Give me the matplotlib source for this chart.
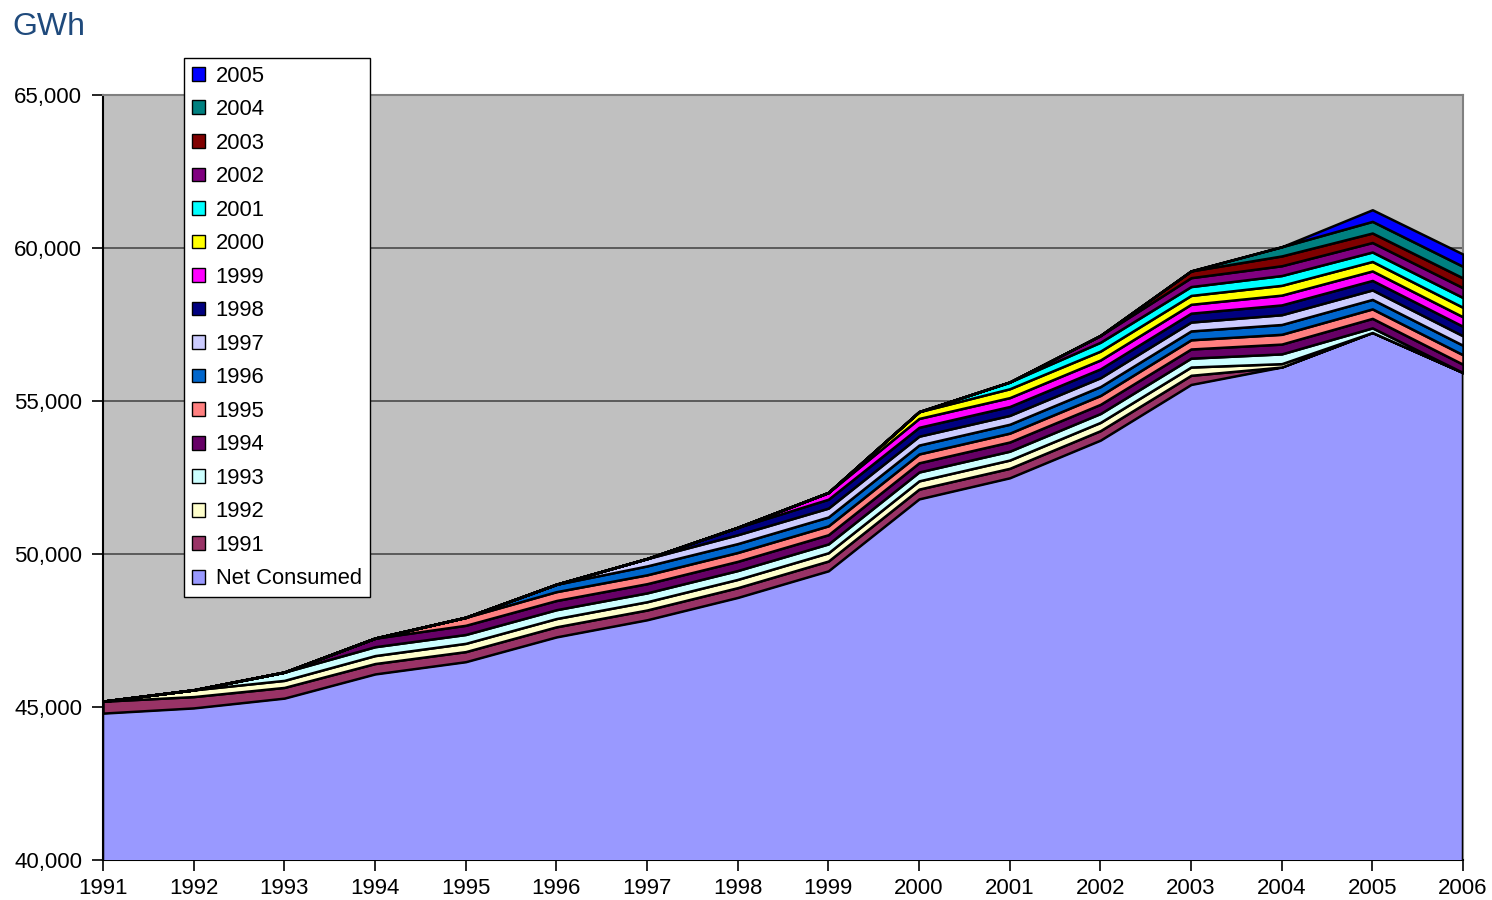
import matplotlib
matplotlib.use("Agg")
import matplotlib.pyplot as plt
from matplotlib.patches import Patch
from matplotlib.ticker import FuncFormatter

plt.rcParams['font.family'] = ['Liberation Sans', 'DejaVu Sans']

years = list(range(1991, 2007))

net_consumed = [44800, 44970, 45290, 46080, 46480, 47290, 47850, 48580,
                49450, 51800, 52490, 53720, 55540, 56110, 57240, 55930]

s1991 = [390, 370, 350, 340, 330, 330, 320, 320, 320, 320, 310, 310, 300, 0, 0, 0]
s1992 = [0, 220, 230, 260, 270, 270, 270, 270, 270, 270, 270, 270, 270, 110, 0, 0]
s1993 = [0, 0, 270, 290, 290, 290, 290, 290, 290, 290, 290, 290, 290, 320, 150, 0]
s1994 = [0, 0, 0, 280, 300, 300, 300, 300, 300, 300, 300, 300, 300, 320, 310, 270]
s1995 = [0, 0, 0, 0, 260, 290, 290, 290, 290, 290, 290, 290, 300, 320, 310, 310]
s1996 = [0, 0, 0, 0, 0, 240, 290, 290, 290, 290, 290, 290, 290, 320, 310, 310]
s1997 = [0, 0, 0, 0, 0, 0, 240, 290, 290, 290, 290, 290, 290, 320, 310, 310]
s1998 = [0, 0, 0, 0, 0, 0, 0, 240, 290, 290, 290, 290, 290, 320, 310, 310]
s1999 = [0, 0, 0, 0, 0, 0, 0, 0, 220, 290, 290, 290, 290, 320, 310, 310]
s2000 = [0, 0, 0, 0, 0, 0, 0, 0, 0, 220, 290, 290, 290, 320, 310, 310]
s2001 = [0, 0, 0, 0, 0, 0, 0, 0, 0, 0, 220, 290, 290, 320, 310, 320]
s2002 = [0, 0, 0, 0, 0, 0, 0, 0, 0, 0, 0, 220, 290, 320, 310, 320]
s2003 = [0, 0, 0, 0, 0, 0, 0, 0, 0, 0, 0, 0, 220, 320, 310, 320]
s2004 = [0, 0, 0, 0, 0, 0, 0, 0, 0, 0, 0, 0, 0, 300, 380, 380]
s2005 = [0, 0, 0, 0, 0, 0, 0, 0, 0, 0, 0, 0, 0, 0, 380, 400]

series_labels = ["Net Consumed", "1991", "1992", "1993", "1994", "1995", "1996",
                 "1997", "1998", "1999", "2000", "2001", "2002", "2003", "2004", "2005"]
series_values = [net_consumed, s1991, s1992, s1993, s1994, s1995, s1996, s1997,
                 s1998, s1999, s2000, s2001, s2002, s2003, s2004, s2005]
series_colors = ["#9999FF", "#993366", "#FFFFCC", "#CCFFFF", "#660066", "#FF8080",
                 "#0066CC", "#CCCCFF", "#000080", "#FF00FF", "#FFFF00", "#00FFFF",
                 "#800080", "#800000", "#008080", "#0000FF"]

y_ticks = [40000, 45000, 50000, 55000, 60000, 65000]

fig = plt.figure(figsize=(14.92, 9.0), dpi=100)
ax = fig.add_axes([103/1492, 1 - 860/900, (1463-103)/1492, (860-95)/900])
ax.set_facecolor("#C0C0C0")

ax.stackplot(years, *series_values, colors=series_colors,
             edgecolor="black", linewidth=1.8, zorder=3)

ax.set_xlim(1991, 2006)
ax.set_ylim(40000, 65000)
ax.set_xticks(years)
ax.set_yticks(y_ticks)
ax.yaxis.set_major_formatter(FuncFormatter(lambda v, p: f"{int(v):,}"))
ax.grid(axis="y", color="#4a4a4a", linewidth=1.2, zorder=1)
ax.set_axisbelow(True)

ax.tick_params(axis="both", direction="out", length=8, width=1.2, labelsize=16,
               colors="black")
ax.tick_params(axis="x", pad=5)
ax.tick_params(axis="y", pad=7)
for s in ["left", "bottom"]:
    ax.spines[s].set_color("black")
    ax.spines[s].set_linewidth(1.5)
for s in ["top", "right"]:
    ax.spines[s].set_color("#808080")
    ax.spines[s].set_linewidth(1.5)

fig.text(12/1492, 1 - 35/900, "GWh", fontsize=23, color="#1F4A7C",
         ha="left", va="baseline")

handles = [Patch(facecolor=c, edgecolor="black", linewidth=1.0, label=l)
           for c, l in zip(series_colors, series_labels)]
handles = handles[::-1]
leg = fig.legend(handles=handles, loc="upper left",
                 bbox_to_anchor=(184/1492, 1 - 58/900),
                 fontsize=15.8, frameon=True, fancybox=False, shadow=False,
                 edgecolor="black", facecolor="white", framealpha=1,
                 handlelength=0.6, handleheight=0.6, handletextpad=0.5,
                 labelspacing=0.57, borderpad=0.35, borderaxespad=0)
leg.get_frame().set_linewidth(1.0)
leg.set_zorder(10)

fig.savefig("out.png", dpi=100)
